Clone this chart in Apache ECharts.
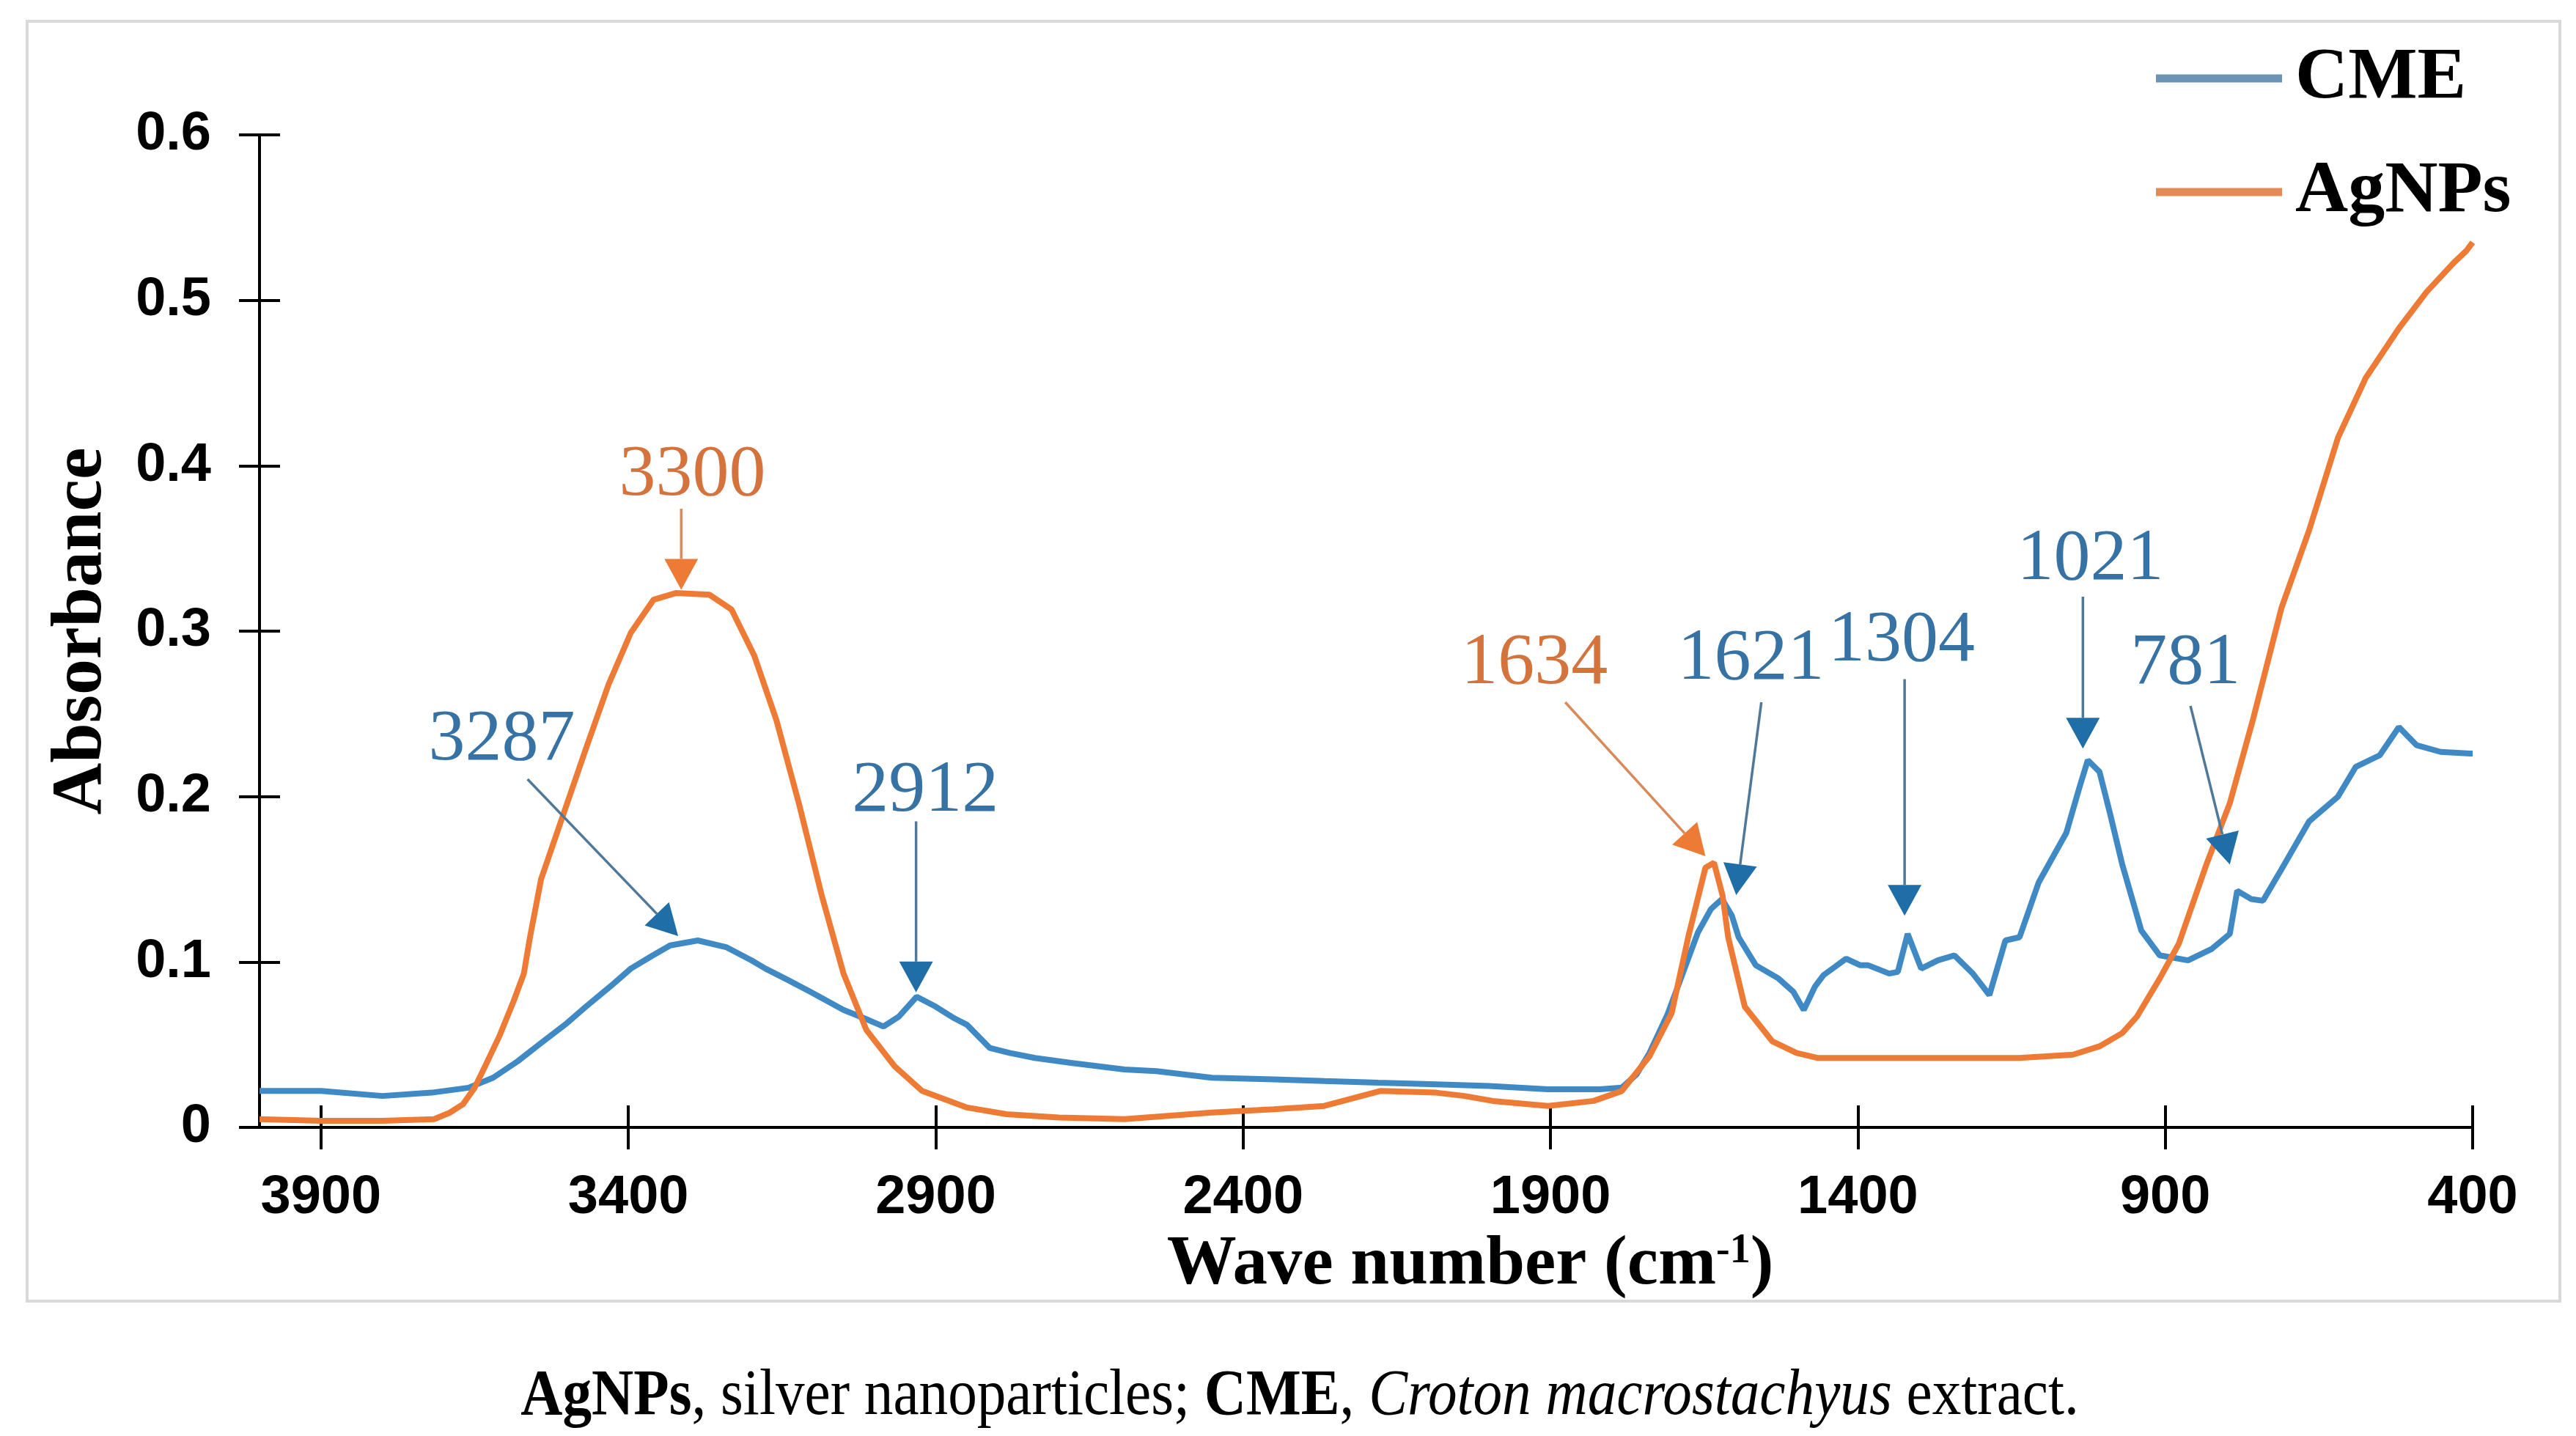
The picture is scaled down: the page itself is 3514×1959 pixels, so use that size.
<!DOCTYPE html>
<html>
<head>
    <meta charset="utf-8">
    <title>FTIR CME / AgNPs</title>
    <script src="https://cdn.jsdelivr.net/npm/echarts@6/dist/echarts.min.js"></script>
    <style>
        html, body { margin: 0; padding: 0; background: #fff; }
        #main { width: 3514px; height: 1959px; }
    </style>
</head>
<body>
<div id="main"></div>
<script type="text/javascript">
    // wave number ticks (cm-1)
    var xTicks = [400, 900, 1400, 1900, 2400, 2900, 3400, 3900];

    // CME spectrum
    var cmeX = [4000, 3900, 3800, 3720, 3660, 3620, 3580, 3542, 3500, 3469, 3430, 3396, 3360, 3332, 3287,
        3241, 3200, 3177, 3140, 3104, 3050, 3010, 2985, 2960, 2931, 2900, 2870, 2849, 2812, 2780, 2739,
        2680, 2593, 2541, 2451, 2350, 2268, 2180, 2086, 2000, 1904, 1820, 1784, 1760, 1739, 1710, 1684,
        1660, 1639, 1621, 1605, 1594, 1566, 1529, 1505, 1488, 1470, 1456, 1419, 1396, 1383, 1349, 1335,
        1319, 1297, 1270, 1243, 1213, 1186, 1160, 1137, 1106, 1061, 1040, 1026, 1007, 990, 970, 939,
        909, 863, 824, 795, 783, 760, 741, 711, 666, 619, 590, 551, 520, 491, 452, 404, 400];
    var cmeY = [0.022, 0.022, 0.019, 0.021, 0.024, 0.030, 0.040, 0.051, 0.063, 0.073, 0.085, 0.096, 0.104, 0.110, 0.113,
        0.109, 0.101, 0.096, 0.089, 0.082, 0.071, 0.065, 0.061, 0.067, 0.079, 0.073, 0.066, 0.062, 0.048, 0.045, 0.042,
        0.039, 0.035, 0.034, 0.030, 0.029, 0.028, 0.027, 0.026, 0.025, 0.023, 0.023, 0.024, 0.032, 0.045, 0.068, 0.094,
        0.118, 0.132, 0.138, 0.128, 0.115, 0.098, 0.090, 0.082, 0.071, 0.085, 0.092, 0.102, 0.098, 0.098, 0.093, 0.094,
        0.117, 0.096, 0.101, 0.104, 0.093, 0.080, 0.113, 0.115, 0.148, 0.178, 0.205, 0.222, 0.215, 0.190, 0.159, 0.119,
        0.104, 0.101, 0.108, 0.117, 0.143, 0.138, 0.137, 0.156, 0.185, 0.200, 0.218, 0.225, 0.242, 0.231, 0.227, 0.226, 0.226];

    // AgNPs spectrum
    var agX = [4000, 3900, 3800, 3716, 3690, 3669, 3650, 3633, 3610, 3587, 3570, 3560, 3542, 3506, 3469,
        3432, 3396, 3359, 3323, 3268, 3232, 3195, 3159, 3122, 3086, 3050, 3013, 2967, 2922, 2849, 2785,
        2700, 2593, 2451, 2350, 2268, 2177, 2086, 2040, 1994, 1904, 1830, 1784, 1739, 1703, 1676, 1648,
        1634, 1620, 1611, 1584, 1539, 1500, 1466, 1300, 1137, 1050, 1007, 970, 946, 909, 878, 833, 795,
        757, 711, 666, 619, 574, 520, 475, 430, 410, 400];
    var agY = [0.005, 0.004, 0.004, 0.005, 0.009, 0.014, 0.024, 0.037, 0.055, 0.076, 0.093, 0.115, 0.150, 0.189, 0.229,
        0.268, 0.299, 0.319, 0.323, 0.322, 0.313, 0.285, 0.246, 0.195, 0.141, 0.093, 0.059, 0.037, 0.022, 0.012, 0.008,
        0.006, 0.005, 0.009, 0.011, 0.013, 0.022, 0.021, 0.019, 0.016, 0.013, 0.016, 0.022, 0.043, 0.069, 0.115, 0.157,
        0.160, 0.140, 0.115, 0.073, 0.052, 0.045, 0.042, 0.042, 0.042, 0.044, 0.049, 0.057, 0.067, 0.090, 0.111, 0.159, 0.196,
        0.247, 0.314, 0.361, 0.417, 0.453, 0.483, 0.505, 0.523, 0.530, 0.535];

    // peak annotations: label position, arrow tail, arrow tip (data units)
    var peakText  = ['3300', '3287', '2912', '1634', '1621', '1304', '1021', '781'];
    var peakSide  = ['ag', 'cme', 'cme', 'ag', 'cme', 'cme', 'cme', 'cme'];
    var labelX = [3296, 3606, 2917, 1926, 1574, 1329, 1022, 867];
    var labelY = [0.394, 0.234, 0.203, 0.280, 0.283, 0.294, 0.343, 0.280];
    var tailX  = [3314, 3564, 2932, 1876, 1557, 1324, 1034, 859];
    var tailY  = [0.374, 0.2105, 0.185, 0.257, 0.257, 0.271, 0.3208, 0.2548];
    var tipX   = [3314, 3319, 2932, 1648, 1598, 1324, 1034, 795];
    var tipY   = [0.325, 0.1157, 0.0817, 0.164, 0.1405, 0.128, 0.229, 0.159];

    var blue = '#3F89C4', orange = '#EE7B35';
    var textCol  = {cme: '#3672A4', ag: '#D5733D'};
    var shaftCol = {cme: '#4F7899', ag: '#D98A5A'};
    var headCol  = {cme: '#1F6EA8', ag: '#EE7B35'};

    var serif = "'Liberation Serif', 'Times New Roman', serif";
    var sans = "'Liberation Sans', Arial, sans-serif";

    function zip(xs, ys) {
        return xs.map(function (x, i) { return [x, ys[i]]; });
    }

    var peakData = peakText.map(function (t, i) {
        return [labelX[i], labelY[i], tailX[i], tailY[i], tipX[i], tipY[i]];
    });

    function renderPeak(params, api) {
        var i = params.dataIndex;
        var side = peakSide[i];
        var lab = api.coord([api.value(0), api.value(1)]);
        var a = api.coord([api.value(2), api.value(3)]);
        var b = api.coord([api.value(4), api.value(5)]);
        var dx = b[0] - a[0], dy = b[1] - a[1];
        var len = Math.sqrt(dx * dx + dy * dy);
        var ux = dx / len, uy = dy / len;
        var headL = 42, headW = 23;
        var base = [b[0] - ux * headL, b[1] - uy * headL];
        return {
            type: 'group',
            children: [{
                type: 'line',
                shape: {x1: a[0], y1: a[1], x2: base[0], y2: base[1]},
                style: {stroke: shaftCol[side], lineWidth: 3.5}
            }, {
                type: 'polygon',
                shape: {points: [b, [base[0] - uy * headW, base[1] + ux * headW], [base[0] + uy * headW, base[1] - ux * headW]]},
                style: {fill: headCol[side]}
            }, {
                type: 'text',
                style: {
                    text: peakText[i], x: lab[0], y: lab[1],
                    fill: textCol[side], fontSize: 100, fontFamily: serif,
                    align: 'center', verticalAlign: 'middle'
                }
            }]
        };
    }

    var myChart = echarts.init(document.getElementById('main'));

    var tickStyle = {color: '#000', width: 4};

    var option = {
        animation: false,
        backgroundColor: '#fff',
        grid: {left: 354, right: 141, top: 184, bottom: 421},
        legend: {
            orient: 'vertical',
            left: 2936,
            top: 52,
            icon: 'rect',
            itemWidth: 172,
            itemHeight: 11,
            itemGap: 55,
            data: [
                {name: 'CME', itemStyle: {color: '#6A93B6'}},
                {name: 'AgNPs', itemStyle: {color: '#E38A56'}}
            ],
            textStyle: {
                fontFamily: serif, fontWeight: 'bold', fontSize: 100, lineHeight: 100,
                color: '#000', padding: [0, 0, 0, 13]
            }
        },
        xAxis: [{
            type: 'value',
            min: 400,
            max: 4000,
            inverse: true,
            position: 'bottom',
            splitLine: {show: false},
            axisLine: {onZero: false, lineStyle: {color: '#000', width: 4}},
            axisTick: {length: 30, lineStyle: tickStyle, customValues: xTicks},
            axisLabel: {
                customValues: xTicks, margin: 60,
                formatter: function (v) { return String(v); },
                fontFamily: sans, fontWeight: 'bold', fontSize: 74, color: '#000'
            },
            name: 'Wave number (cm{sup|-1})',
            nameLocation: 'middle',
            nameGap: 125,
            nameTextStyle: {
                fontFamily: serif, fontWeight: 'bold', fontSize: 95, lineHeight: 100,
                color: '#000', padding: [0, 0, 0, 284],
                rich: {
                    sup: {fontFamily: serif, fontWeight: 'bold', fontSize: 56, lineHeight: 100,
                        color: '#000', padding: [0, 0, 38, 0]}
                }
            }
        }, {
            type: 'value',
            min: 400,
            max: 4000,
            inverse: true,
            position: 'bottom',
            splitLine: {show: false},
            axisLine: {show: false},
            axisTick: {inside: true, length: 30, lineStyle: tickStyle, customValues: xTicks},
            axisLabel: {show: false}
        }],
        yAxis: [{
            type: 'value',
            min: 0,
            max: 0.6,
            interval: 0.1,
            position: 'left',
            splitLine: {show: false},
            axisLine: {show: true, lineStyle: {color: '#000', width: 4}},
            axisTick: {show: true, length: 28, lineStyle: tickStyle},
            axisLabel: {margin: 66, fontFamily: sans, fontWeight: 'bold', fontSize: 74, color: '#000'},
            name: 'Absorbance',
            nameLocation: 'middle',
            nameRotate: 90,
            nameGap: 193,
            nameTextStyle: {fontFamily: serif, fontWeight: 'bold', fontSize: 98, lineHeight: 98, color: '#000'}
        }, {
            type: 'value',
            min: 0,
            max: 0.6,
            interval: 0.1,
            position: 'left',
            splitLine: {show: false},
            axisLine: {show: false},
            axisTick: {show: true, inside: true, length: 28, lineStyle: tickStyle},
            axisLabel: {show: false}
        }],
        graphic: [{
            type: 'rect',
            shape: {x: 37, y: 29, width: 3455, height: 1746},
            style: {fill: 'none', stroke: '#D9D9D9', lineWidth: 4},
            z: -1
        }, {
            type: 'text',
            x: 1773,
            y: 1906,
            scaleX: 0.9,
            style: {
                text: '{b|AgNPs}{r|, silver nanoparticles; }{b|CME}{r|, }{i|Croton macrostachyus}{r| extract.}',
                align: 'center',
                verticalAlign: 'middle',
                rich: {
                    b: {fontFamily: serif, fontWeight: 'bold', fontSize: 88, fill: '#000'},
                    r: {fontFamily: serif, fontSize: 88, fill: '#000'},
                    i: {fontFamily: serif, fontStyle: 'italic', fontSize: 88, fill: '#000'}
                }
            }
        }],
        series: [{
            name: 'CME',
            type: 'line',
            data: zip(cmeX, cmeY),
            showSymbol: false,
            lineStyle: {color: blue, width: 8},
            itemStyle: {color: blue},
            z: 2
        }, {
            name: 'AgNPs',
            type: 'line',
            data: zip(agX, agY),
            showSymbol: false,
            lineStyle: {color: orange, width: 8},
            itemStyle: {color: orange},
            z: 3
        }, {
            name: 'peaks',
            type: 'custom',
            renderItem: renderPeak,
            data: peakData,
            encode: {x: 0, y: 1},
            clip: false,
            z: 4
        }]
    };

    myChart.setOption(option);
</script>
</body>
</html>
